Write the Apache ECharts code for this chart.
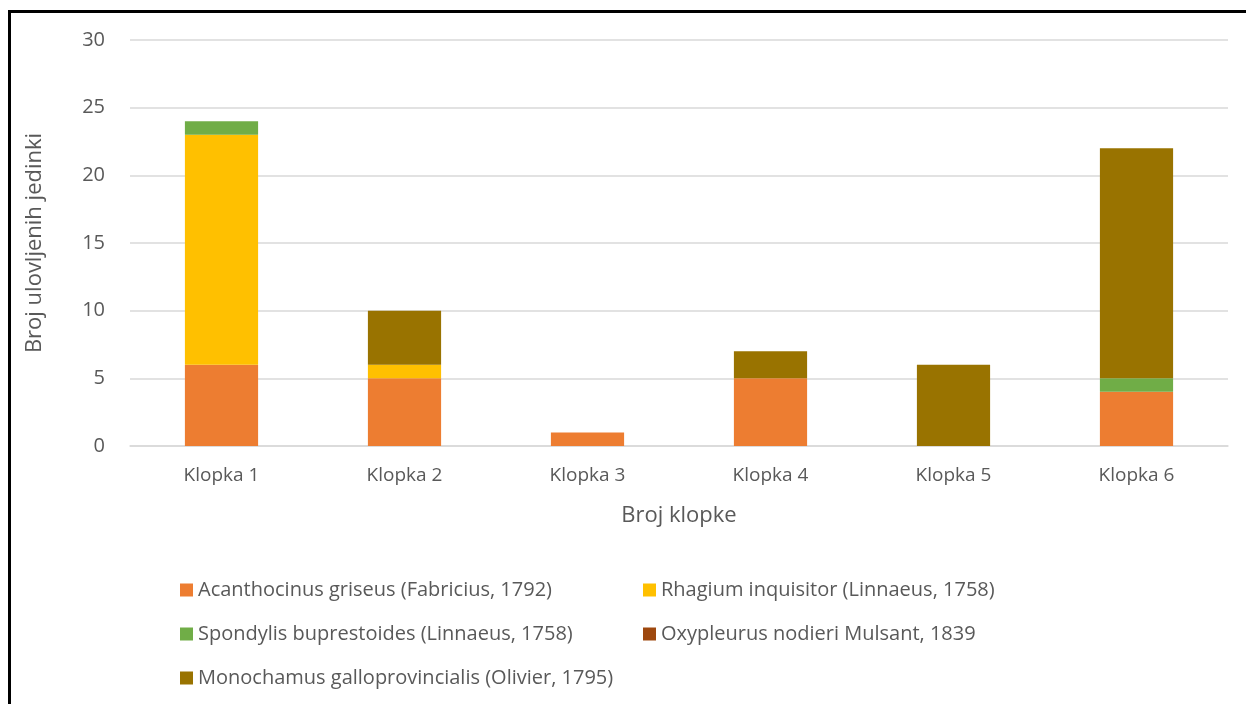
<!DOCTYPE html>
<html>
  <head>
    <meta charset="utf-8" />
    <script src="https://cdn.jsdelivr.net/npm/echarts@6.0.0/dist/echarts.min.js"></script>
    <style>
      html, body { margin: 0; padding: 0; background: #fff; }
      #main { position: absolute; left: 0; top: 0; width: 1246px; height: 704px; }
      #frame { position: absolute; left: 8px; top: 10px; right: 0; bottom: 0;
               border-left: 3px solid #000; border-top: 3px solid #000; pointer-events: none; }
    </style>
  </head>

  <body>
    <div id="main"></div>
    <div id="frame"></div>
    <script type="text/javascript">
      // data
      const categories = ['Klopka 1', 'Klopka 2', 'Klopka 3', 'Klopka 4', 'Klopka 5', 'Klopka 6'];
      const acanthocinus = [6, 5, 1, 5, 0, 4];
      const rhagium = [17, 1, 0, 0, 0, 0];
      const spondylis = [1, 0, 0, 0, 0, 1];
      const oxypleurus = [0, 0, 0, 0, 0, 0];
      const monochamus = [0, 4, 0, 2, 6, 17];

      const names = [
        'Acanthocinus griseus (Fabricius, 1792)',
        'Rhagium inquisitor (Linnaeus, 1758)',
        'Spondylis buprestoides (Linnaeus, 1758)',
        'Oxypleurus nodieri Mulsant, 1839',
        'Monochamus galloprovincialis (Olivier, 1795)'
      ];
      const colors = ['#ED7D31', '#FFC000', '#70AD47', '#9E480E', '#997300'];
      const values = [acanthocinus, rhagium, spondylis, oxypleurus, monochamus];

      const font = '"Open Sans", sans-serif';
      const legendText = { color: '#595959', fontSize: 20, fontFamily: font };

      var myChart = echarts.init(document.getElementById('main'));

      var option = {
        color: colors,
        animation: false,
        grid: { left: 130, right: 18, top: 40, bottom: 258, containLabel: false },
        legend: [
          {
            orient: 'vertical', left: 175, top: 575,
            itemWidth: 13, itemHeight: 13, itemGap: 24,
            icon: 'rect', textStyle: legendText,
            data: [names[0], names[2], names[4]]
          },
          {
            orient: 'vertical', left: 638, top: 575,
            itemWidth: 13, itemHeight: 13, itemGap: 24,
            icon: 'rect', textStyle: legendText,
            data: [names[1], names[3]]
          }
        ],
        xAxis: {
          type: 'category',
          data: categories,
          name: 'Broj klopke',
          nameLocation: 'middle',
          nameGap: 59,
          nameTextStyle: { color: '#595959', fontSize: 22, fontFamily: font },
          axisLine: { lineStyle: { color: '#D9D9D9', width: 1.5 } },
          axisTick: { show: false },
          axisLabel: { color: '#595959', fontSize: 19, fontFamily: font, margin: 20 }
        },
        yAxis: {
          type: 'value',
          min: 0, max: 30, interval: 5,
          name: 'Broj ulovljenih jedinki',
          nameLocation: 'middle',
          nameGap: 84,
          nameTextStyle: { color: '#595959', fontSize: 22, fontFamily: font },
          axisLabel: { color: '#595959', fontSize: 20, fontFamily: font, margin: 25 },
          splitLine: { lineStyle: { color: '#D9D9D9', width: 1.5 } }
        },
        series: names.map((n, i) => ({
          name: n,
          type: 'bar',
          stack: 'total',
          barWidth: '40%',
          data: values[i]
        }))
      };

      myChart.setOption(option);
    </script>
  </body>

</html>
